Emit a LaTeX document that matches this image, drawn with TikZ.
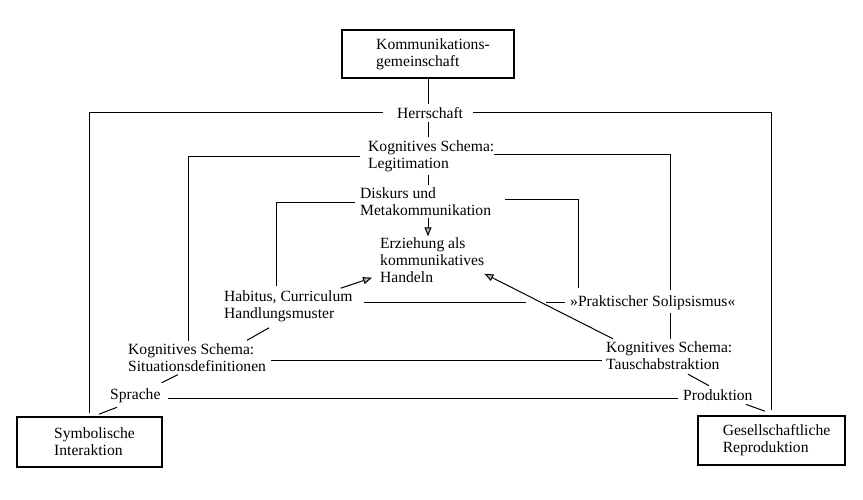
\documentclass[tikz,border=0pt]{standalone}
\usepackage{fontspec}
\setmainfont{Liberation Serif}
\usetikzlibrary{arrows.meta}
\begin{document}
\begin{tikzpicture}[x=1pt,y=-1pt,
  every node/.style={font=\fontsize{15.6}{17}\selectfont, inner sep=0pt, align=left},
  lbl/.style={anchor=west},
  boxnode/.style={draw, line width=1.6pt, inner sep=0pt},
  conn/.style={line width=1pt},
  arr/.style={conn, -{Triangle[length=9pt,width=7pt,fill=gray!60]}}]
\useasboundingbox (0,0) rectangle (863,499);
% nodes
\node[boxnode, minimum width=172pt, minimum height=48pt] (kg) at (428,54) {\hspace*{10pt}Kommunikations-\\\hspace*{10pt}gemeinschaft};
\node[lbl] (herr) at (397,113) {Herrschaft};
\node[lbl] (legit) at (368,156) {Kognitives Schema:\\Legitimation};
\node[lbl] (disk) at (360,202) {Diskurs und\\Metakommunikation};
\node[lbl] (erz) at (380,260) {Erziehung als\\kommunikatives\\Handeln};
\node[lbl] (hab) at (224,306) {Habitus, Curriculum\\Handlungsmuster};
\node[lbl] (prak) at (570,303) {»Praktischer Solipsismus«};
\node[lbl] (sit) at (128,358) {Kognitives Schema:\\Situationsdefinitionen};
\node[lbl] (tausch) at (606,356) {Kognitives Schema:\\Tauschabstraktion};
\node[lbl] (spr) at (110,396) {Sprache};
\node[lbl] (prod) at (683,395) {Produktion};
\node[boxnode, minimum width=145pt, minimum height=50pt] (sym) at (89.5,442) {\hspace*{10pt}Symbolische\\\hspace*{10pt}Interaktion};
\node[boxnode, minimum width=147pt, minimum height=49pt] (ges) at (771.5,440.5) {\hspace*{10pt}Gesellschaftliche\\\hspace*{10pt}Reproduktion};
\coordinate (gapL) at (526,302);
\coordinate (gapR) at (546,302);
% connectors
\draw[conn, shorten >=3pt] (kg.south) -- (herr.north -| kg.south);
\draw[conn, shorten <=14pt, shorten >=3pt] ([yshift=1pt]herr.west) -| (sym.north);
\draw[conn, shorten <=10pt, shorten >=5pt] ([yshift=1pt]herr.east) -| (ges.north);
\draw[conn, shorten <=3pt, shorten >=3pt] (herr.south -| kg.south) -- (legit.north -| kg.south);
\draw[conn, shorten <=8pt, shorten >=3pt] (legit.west) -| ([xshift=60pt]sit.north west);
\draw[conn, shorten >=6pt] ([yshift=2pt]legit.east) -| ([xshift=100pt]prak.north west);
\draw[conn, shorten <=3pt, shorten >=3pt] ([xshift=100pt]prak.south west) -- ([xshift=64pt]tausch.north west);
\draw[conn, shorten <=3pt, shorten >=3pt] (legit.south -| kg.south) -- (disk.north -| kg.south);
\draw[conn, shorten <=5pt, shorten >=4pt] (disk.west) -| ([xshift=52pt]hab.north west);
\draw[conn, shorten <=14pt, shorten >=8pt] ([yshift=3pt]disk.east) -| ([xshift=8pt]prak.north west);
\draw[arr, shorten <=2pt, shorten >=1pt] (disk.south -| kg.south) -- (erz.north -| kg.south);
\draw[arr] ([xshift=-12pt,yshift=2pt]hab.north east) -- ([xshift=-8pt,yshift=5pt]erz.south west);
\draw[arr] ([xshift=7pt,yshift=3pt]tausch.north west) -- ([yshift=9pt]erz.south east);
\draw[conn, shorten <=11pt] (hab.east |- gapL) -- (gapL);
\draw[conn, shorten >=5pt] (gapR) -- (gapR -| prak.west);
\draw[conn, shorten <=5pt, shorten >=4pt] ([yshift=-2pt]sit.east) -- ([yshift=-2pt]sit.east -| tausch.west);
\draw[conn] ([xshift=119pt,yshift=3.5pt]sit.north west) -- ([xshift=45pt,yshift=-6pt]hab.south west);
\draw[conn] ([xshift=1pt,yshift=6pt]spr.north east) -- ([xshift=50pt,yshift=-2.5pt]sit.south west);
\draw[conn] ([xshift=9.5pt,yshift=2pt]sym.north) -- ([xshift=7pt,yshift=-4pt]spr.south west);
\draw[conn, shorten <=7pt, shorten >=5pt] ([yshift=-2pt]spr.east) -- ([yshift=-2pt]spr.east -| prod.west);
\draw[conn] ([xshift=82pt,yshift=-4pt]tausch.south west) -- ([xshift=26pt,yshift=3.6pt]prod.north west);
\draw[conn] ([xshift=-7pt,yshift=-3.6pt]prod.south east) -- ([xshift=-6.5pt,yshift=4pt]ges.north);
\end{tikzpicture}
\end{document}
